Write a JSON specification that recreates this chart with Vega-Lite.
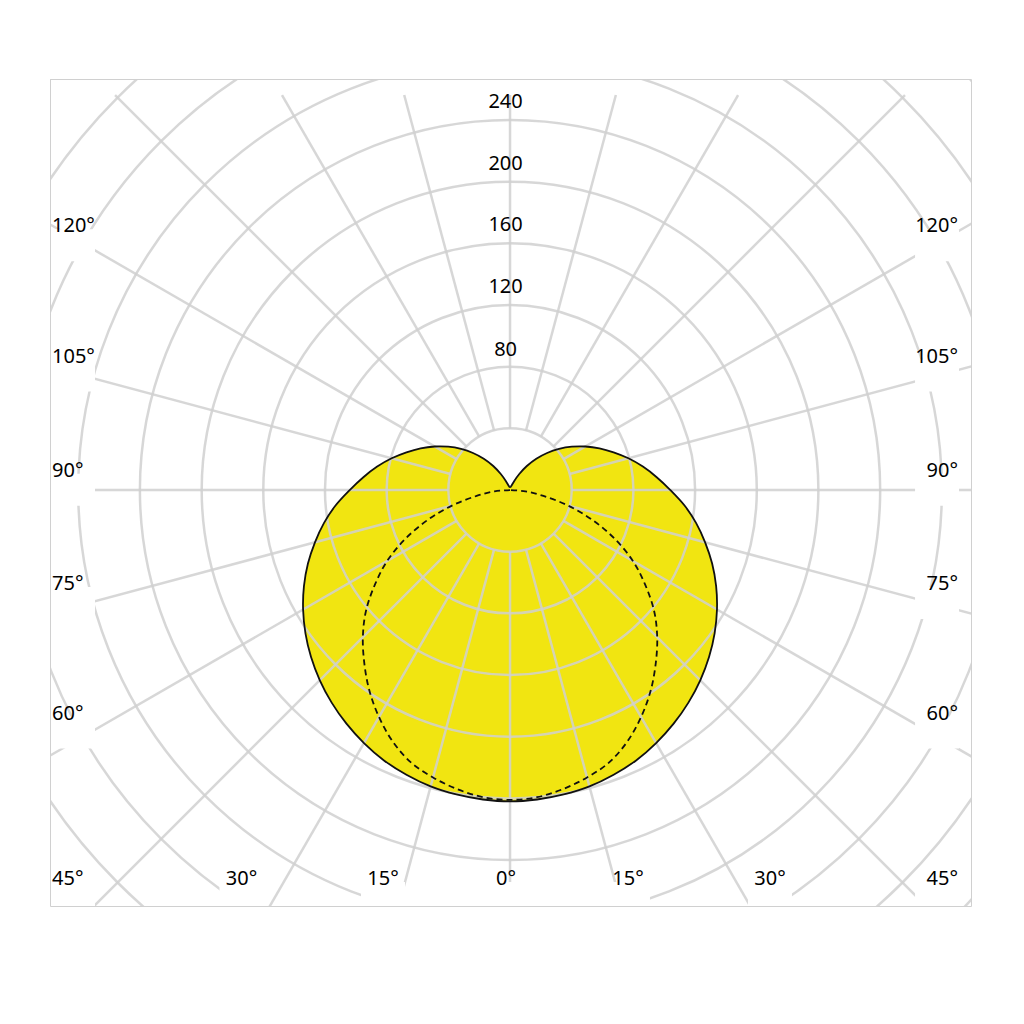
{
  "$schema": "https://vega.github.io/schema/vega-lite/v6.json",
  "width": 921,
  "height": 827,
  "autosize": {"type": "none"},
  "padding": {"left": 50, "top": 79, "right": 53, "bottom": 118},
  "background": "white",
  "config": {"view": {"stroke": "#d0d0d0", "strokeWidth": 1}, "text": {"font": "Noto Sans", "fontSize": 20, "color": "#000000"}},
  "datasets": {
    "curve": [
      {"angle": -180, "value": 2}, {"angle": -175, "value": 2}, {"angle": -170, "value": 2}, {"angle": -165, "value": 2.5},
      {"angle": -160, "value": 3.5}, {"angle": -155, "value": 6.5}, {"angle": -150, "value": 12}, {"angle": -145, "value": 19},
      {"angle": -140, "value": 26.5}, {"angle": -135, "value": 34}, {"angle": -130, "value": 41.5}, {"angle": -125, "value": 49},
      {"angle": -120, "value": 56.5}, {"angle": -115, "value": 64}, {"angle": -110, "value": 71.5}, {"angle": -105, "value": 79.5},
      {"angle": -100, "value": 87.5}, {"angle": -95, "value": 95.5}, {"angle": -90, "value": 104}, {"angle": -85, "value": 113.5},
      {"angle": -80, "value": 122.5}, {"angle": -75, "value": 131}, {"angle": -70, "value": 139.5}, {"angle": -65, "value": 147.5},
      {"angle": -60, "value": 155}, {"angle": -55, "value": 162}, {"angle": -50, "value": 168.5}, {"angle": -45, "value": 174.5},
      {"angle": -40, "value": 180}, {"angle": -35, "value": 185}, {"angle": -30, "value": 189.5}, {"angle": -25, "value": 193.5},
      {"angle": -20, "value": 196.5}, {"angle": -15, "value": 199}, {"angle": -10, "value": 200.5}, {"angle": -5, "value": 201.5},
      {"angle": 0, "value": 202},
      {"angle": 5, "value": 201.5}, {"angle": 10, "value": 200.5}, {"angle": 15, "value": 199}, {"angle": 20, "value": 196.5},
      {"angle": 25, "value": 193.5}, {"angle": 30, "value": 189.5}, {"angle": 35, "value": 185}, {"angle": 40, "value": 180},
      {"angle": 45, "value": 174.5}, {"angle": 50, "value": 168.5}, {"angle": 55, "value": 162}, {"angle": 60, "value": 155},
      {"angle": 65, "value": 147.5}, {"angle": 70, "value": 139.5}, {"angle": 75, "value": 131}, {"angle": 80, "value": 122.5},
      {"angle": 85, "value": 113.5}, {"angle": 90, "value": 104}, {"angle": 95, "value": 95.5}, {"angle": 100, "value": 87.5},
      {"angle": 105, "value": 79.5}, {"angle": 110, "value": 71.5}, {"angle": 115, "value": 64}, {"angle": 120, "value": 56.5},
      {"angle": 125, "value": 49}, {"angle": 130, "value": 41.5}, {"angle": 135, "value": 34}, {"angle": 140, "value": 26.5},
      {"angle": 145, "value": 19}, {"angle": 150, "value": 12}, {"angle": 155, "value": 6.5}, {"angle": 160, "value": 3.5},
      {"angle": 165, "value": 2.5}, {"angle": 170, "value": 2}, {"angle": 175, "value": 2}, {"angle": 180, "value": 2}
    ],
    "reference": [
      {"angle": -90, "value": 0}, {"angle": -85, "value": 10}, {"angle": -80, "value": 22}, {"angle": -75, "value": 39},
      {"angle": -70, "value": 57}, {"angle": -65, "value": 75}, {"angle": -60, "value": 92}, {"angle": -55, "value": 107},
      {"angle": -50, "value": 122}, {"angle": -45, "value": 135}, {"angle": -40, "value": 147}, {"angle": -35, "value": 159},
      {"angle": -30, "value": 170}, {"angle": -25, "value": 180}, {"angle": -20, "value": 188}, {"angle": -15, "value": 193},
      {"angle": -10, "value": 197}, {"angle": -5, "value": 200}, {"angle": 0, "value": 201},
      {"angle": 5, "value": 200}, {"angle": 10, "value": 197}, {"angle": 15, "value": 193}, {"angle": 20, "value": 188},
      {"angle": 25, "value": 180}, {"angle": 30, "value": 170}, {"angle": 35, "value": 159}, {"angle": 40, "value": 147},
      {"angle": 45, "value": 135}, {"angle": 50, "value": 122}, {"angle": 55, "value": 107}, {"angle": 60, "value": 92},
      {"angle": 65, "value": 75}, {"angle": 70, "value": 57}, {"angle": 75, "value": 39}, {"angle": 80, "value": 22},
      {"angle": 85, "value": 10}, {"angle": 90, "value": 0}
    ],
    "circles": [
      {"value": 40}, {"value": 80}, {"value": 120}, {"value": 160}, {"value": 200},
      {"value": 240}, {"value": 280}, {"value": 320}, {"value": 360}, {"value": 400}
    ],
    "spokes": [
      {"angle": 0}, {"angle": 15}, {"angle": 30}, {"angle": 45}, {"angle": 60}, {"angle": 75},
      {"angle": 90}, {"angle": 105}, {"angle": 120}, {"angle": 135}, {"angle": 150}, {"angle": 165},
      {"angle": 180}, {"angle": 195}, {"angle": 210}, {"angle": 225}, {"angle": 240}, {"angle": 255},
      {"angle": 270}, {"angle": 285}, {"angle": 300}, {"angle": 315}, {"angle": 330}, {"angle": 345}
    ],
    "leftLabels": [
      {"label": "120°", "x": -297.1, "y": 167.2},
      {"label": "105°", "x": -297.1, "y": 82.7},
      {"label": "90°", "x": -297.1, "y": 8.6},
      {"label": "75°", "x": -297.1, "y": -64.9},
      {"label": "60°", "x": -297.1, "y": -148.9},
      {"label": "45°", "x": -297.1, "y": -256.2}
    ],
    "rightLabels": [
      {"label": "120°", "x": 290.6, "y": 167.2},
      {"label": "105°", "x": 290.6, "y": 82.7},
      {"label": "90°", "x": 290.6, "y": 8.6},
      {"label": "75°", "x": 290.6, "y": -64.9},
      {"label": "60°", "x": 290.6, "y": -148.9},
      {"label": "45°", "x": 290.6, "y": -256.2}
    ],
    "bottomLabels": [
      {"label": "30°", "x": -174.2, "y": -256.2},
      {"label": "15°", "x": -82.4, "y": -256.2},
      {"label": "0°", "x": -2.6, "y": -256.2},
      {"label": "15°", "x": 76.5, "y": -256.2},
      {"label": "30°", "x": 168.6, "y": -256.2}
    ],
    "radialLabels": [
      {"label": "80", "x": -2.9, "y": 87.2},
      {"label": "120", "x": -2.9, "y": 127.5},
      {"label": "160", "x": -2.9, "y": 167.7},
      {"label": "200", "x": -2.9, "y": 207.9},
      {"label": "240", "x": -2.9, "y": 248.1}
    ]
  },
  "encoding": {
    "x": {"type": "quantitative", "scale": {"domain": [-298.4, 299.0], "nice": false, "zero": false}, "axis": null},
    "y": {"type": "quantitative", "scale": {"domain": [-269.8, 266.6], "nice": false, "zero": false}, "axis": null}
  },
  "layer": [
    {
      "data": {"name": "curve"},
      "transform": [
        {"calculate": "datum.value*sin(datum.angle*PI/180)", "as": "px"},
        {"calculate": "-datum.value*cos(datum.angle*PI/180)", "as": "py"}
      ],
      "mark": {"type": "line", "fill": "#f1e511", "strokeWidth": 0, "interpolate": "catmull-rom", "clip": true},
      "encoding": {
        "x": {"field": "px", "type": "quantitative"},
        "y": {"field": "py", "type": "quantitative"},
        "order": {"field": "angle", "type": "quantitative"}
      }
    },
    {
      "data": {"name": "circles"},
      "mark": {"type": "arc", "theta": 0, "theta2": 6.2832, "x": {"expr": "scale('x', 0)"}, "y": {"expr": "scale('y', 0)"}, "fillOpacity": 0, "stroke": "#d0d0d0", "strokeOpacity": 0.85, "strokeWidth": 2.5, "clip": true},
      "encoding": {
        "radius": {"field": "value", "type": "quantitative", "stack": null, "scale": {"type": "linear", "domain": [0, 268.2], "zero": true, "nice": false}, "legend": null}
      }
    },
    {
      "data": {"name": "spokes"},
      "transform": [
        {"calculate": "datum.angle > 90 && datum.angle < 270 ? min(450, 256.2 / -cos(datum.angle*PI/180)) : 450", "as": "re"},
        {"calculate": "40*sin(datum.angle*PI/180)", "as": "sx"},
        {"calculate": "-40*cos(datum.angle*PI/180)", "as": "sy"},
        {"calculate": "datum.re*sin(datum.angle*PI/180)", "as": "ex"},
        {"calculate": "-datum.re*cos(datum.angle*PI/180)", "as": "ey"}
      ],
      "mark": {"type": "rule", "stroke": "#d0d0d0", "strokeOpacity": 0.85, "strokeWidth": 2.5, "clip": true},
      "encoding": {
        "x": {"field": "sx", "type": "quantitative"},
        "y": {"field": "sy", "type": "quantitative"},
        "x2": {"field": "ex"},
        "y2": {"field": "ey"}
      }
    },
    {
      "data": {"name": "curve"},
      "transform": [
        {"calculate": "datum.value*sin(datum.angle*PI/180)", "as": "px"},
        {"calculate": "-datum.value*cos(datum.angle*PI/180)", "as": "py"}
      ],
      "mark": {"type": "line", "stroke": "#111111", "strokeWidth": 1.8, "interpolate": "catmull-rom", "clip": true},
      "encoding": {
        "x": {"field": "px", "type": "quantitative"},
        "y": {"field": "py", "type": "quantitative"},
        "order": {"field": "angle", "type": "quantitative"}
      }
    },
    {
      "data": {"name": "reference"},
      "transform": [
        {"calculate": "datum.value*sin(datum.angle*PI/180)", "as": "px"},
        {"calculate": "-datum.value*cos(datum.angle*PI/180)", "as": "py"}
      ],
      "mark": {"type": "line", "stroke": "#111111", "strokeWidth": 1.8, "strokeDash": [6, 4], "interpolate": "catmull-rom", "clip": true},
      "encoding": {
        "x": {"field": "px", "type": "quantitative"},
        "y": {"field": "py", "type": "quantitative"},
        "order": {"field": "angle", "type": "quantitative"}
      }
    },
    {
      "data": {"name": "leftLabels"},
      "mark": {"type": "point", "shape": "M-1.375,-1H1.375V1H-1.375Z", "size": 1024, "filled": true, "fill": "white", "opacity": 1, "strokeWidth": 0, "xOffset": 21, "yOffset": 13, "clip": true},
      "encoding": {
        "x": {"field": "x", "type": "quantitative"},
        "y": {"field": "y", "type": "quantitative"}
      }
    },
    {
      "data": {"name": "rightLabels"},
      "mark": {"type": "point", "shape": "M-1.375,-1H1.375V1H-1.375Z", "size": 1024, "filled": true, "fill": "white", "opacity": 1, "strokeWidth": 0, "xOffset": -21, "yOffset": 13, "clip": true},
      "encoding": {
        "x": {"field": "x", "type": "quantitative"},
        "y": {"field": "y", "type": "quantitative"}
      }
    },
    {
      "data": {"name": "bottomLabels"},
      "mark": {"type": "point", "shape": "M-1.375,-1H1.375V1H-1.375Z", "size": 1024, "filled": true, "fill": "white", "opacity": 1, "strokeWidth": 0, "yOffset": 13, "clip": true},
      "encoding": {
        "x": {"field": "x", "type": "quantitative"},
        "y": {"field": "y", "type": "quantitative"}
      }
    },
    {
      "data": {"name": "leftLabels"},
      "mark": {"type": "text", "align": "left", "baseline": "alphabetic"},
      "encoding": {
        "x": {"field": "x", "type": "quantitative"},
        "y": {"field": "y", "type": "quantitative"},
        "text": {"field": "label"}
      }
    },
    {
      "data": {"name": "rightLabels"},
      "mark": {"type": "text", "align": "right", "baseline": "alphabetic"},
      "encoding": {
        "x": {"field": "x", "type": "quantitative"},
        "y": {"field": "y", "type": "quantitative"},
        "text": {"field": "label"}
      }
    },
    {
      "data": {"name": "bottomLabels"},
      "mark": {"type": "text", "align": "center", "baseline": "alphabetic"},
      "encoding": {
        "x": {"field": "x", "type": "quantitative"},
        "y": {"field": "y", "type": "quantitative"},
        "text": {"field": "label"}
      }
    },
    {
      "data": {"name": "radialLabels"},
      "mark": {"type": "text", "align": "center", "baseline": "alphabetic"},
      "encoding": {
        "x": {"field": "x", "type": "quantitative"},
        "y": {"field": "y", "type": "quantitative"},
        "text": {"field": "label"}
      }
    }
  ]
}
